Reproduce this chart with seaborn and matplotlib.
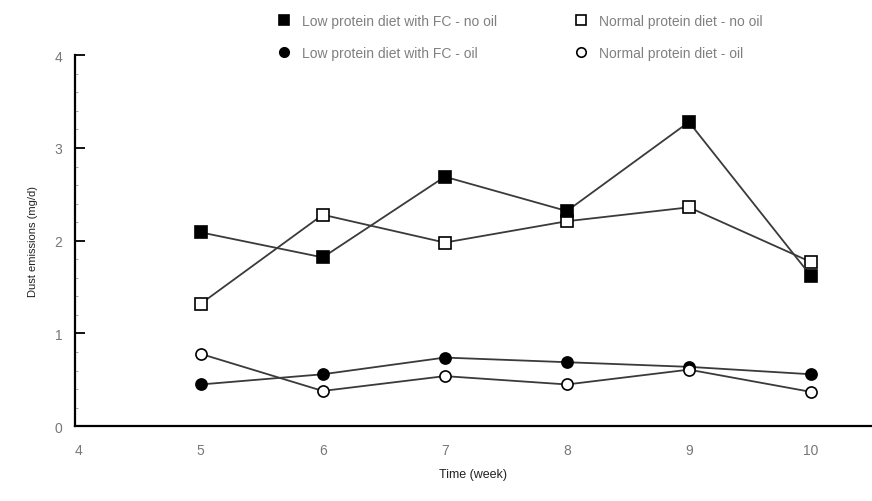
import numpy as np
import pandas as pd
import matplotlib
matplotlib.use("Agg")
import matplotlib.pyplot as plt
import seaborn as sns
from matplotlib.ticker import MultipleLocator

# Values
weeks = [5, 6, 7, 8, 9, 10]
low_fc_no_oil = [2.09, 1.82, 2.69, 2.32, 3.28, 1.62]
normal_no_oil = [1.32, 2.28, 1.98, 2.21, 2.36, 1.77]
low_fc_oil = [0.45, 0.56, 0.74, 0.69, 0.64, 0.56]
normal_oil = [0.78, 0.38, 0.54, 0.45, 0.61, 0.37]

series_names = [
    "Low protein diet with FC - no oil",
    "Normal protein diet - no oil",
    "Low protein diet with FC - oil",
    "Normal protein diet - oil",
]
series_values = [low_fc_no_oil, normal_no_oil, low_fc_oil, normal_oil]
y_ticks = [0, 1, 2, 3, 4]
x_ticks = [4, 5, 6, 7, 8, 9, 10]

df = pd.DataFrame({
    "week": np.tile(weeks, len(series_names)),
    "dust": np.concatenate(series_values),
    "diet": np.repeat(series_names, len(weeks)),
})

sns.set_style("ticks")
plt.rcParams["font.family"] = ["Liberation Sans", "DejaVu Sans"]

fig = plt.figure(figsize=(8.72, 5.02), dpi=100)
ax = fig.add_axes([0.086, 0.149, 0.914, 0.739])

styles = {
    series_names[0]: dict(marker="s", mfc="black"),
    series_names[1]: dict(marker="s", mfc="white"),
    series_names[2]: dict(marker="o", mfc="black"),
    series_names[3]: dict(marker="o", mfc="white"),
}

for name in [series_names[2], series_names[3], series_names[1], series_names[0]]:
    sub = df[df["diet"] == name]
    sns.lineplot(data=sub, x="week", y="dust", ax=ax, color="#3a3a3a",
                 linewidth=1.3, mec="black", mew=1.2, ms=8, label=name,
                 **styles[name])

ax.set_xlim(3.97, 10.5)
ax.set_ylim(0, 4)
ax.set_xticks(x_ticks)
ax.set_yticks(y_ticks)
ax.yaxis.set_minor_locator(MultipleLocator(0.2))
ax.tick_params(axis="y", which="major", direction="in", length=7, width=1.3,
               colors="black", labelcolor="#777777", labelsize=10, pad=9)
ax.tick_params(axis="y", which="minor", direction="in", length=2, width=0.6,
               colors="#999999")
ax.tick_params(axis="x", which="major", direction="in", length=0,
               labelcolor="#777777", labelsize=10, pad=12)

for s in ["top", "right"]:
    ax.spines[s].set_visible(False)
for s in ["left", "bottom"]:
    ax.spines[s].set_linewidth(1.6)
    ax.spines[s].set_color("black")

ax.set_xlabel("Time (week)", fontsize=9, color="#222222", labelpad=8)
ax.set_ylabel("Dust emissions (mg/d)", fontsize=8, color="#222222", labelpad=12)

handles, labels = ax.get_legend_handles_labels()
order = [labels.index(n) for n in series_names]
pick = [order[0], order[2], order[1], order[3]]
leg = fig.legend([handles[i] for i in pick], [labels[i] for i in pick],
                 loc="upper left", bbox_to_anchor=(0.305, 0.995), ncol=2,
                 frameon=False, fontsize=10, handlelength=0.8,
                 handletextpad=0.9, columnspacing=5.6, labelspacing=1.3,
                 markerscale=0.85)
for h in leg.legend_handles:
    h.set_linestyle("none")
for t in leg.get_texts():
    t.set_color("#808080")
if ax.get_legend():
    ax.get_legend().remove()

fig.savefig("out.png", dpi=100)
